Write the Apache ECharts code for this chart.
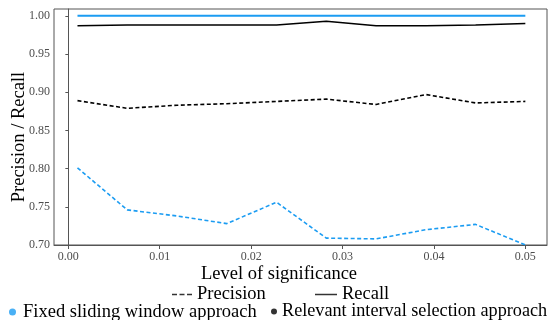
<!DOCTYPE html>
<html>
<head>
<meta charset="utf-8">
<script src="https://cdn.jsdelivr.net/npm/echarts@6/dist/echarts.min.js"></script>
<style>
html,body{margin:0;padding:0;background:#fff;}
#chart{width:548px;height:320px;}
</style>
</head>
<body>
<div id="chart"></div>
<script>
const levels = [0.001, 0.00644, 0.01189, 0.01733, 0.02278, 0.02822, 0.03367, 0.03911, 0.04456, 0.05];
const fixedPrecision = [0.801, 0.746, 0.738, 0.728, 0.756, 0.709, 0.708, 0.720, 0.727, 0.700];
const fixedRecall = [1.000, 1.000, 1.000, 1.000, 1.000, 1.000, 1.000, 1.000, 1.000, 1.000];
const relevantPrecision = [0.889, 0.879, 0.883, 0.885, 0.888, 0.891, 0.884, 0.897, 0.886, 0.888];
const relevantRecall = [0.987, 0.988, 0.988, 0.988, 0.988, 0.993, 0.987, 0.987, 0.988, 0.990];
const xTicks = [0.00, 0.01, 0.02, 0.03, 0.04, 0.05];
const xTitle = 'Level of significance';
const yTitle = 'Precision / Recall';
const legendLine = ['Precision', 'Recall'];
const legendMethod = ['Fixed sliding window approach', 'Relevant interval selection approach'];

const BLUE = '#1b9cf2';
const FONT = 'Liberation Serif';
const pairs = ys => levels.map((x, i) => [x, ys[i]]);

const chart = echarts.init(document.getElementById('chart'), null, {renderer: 'canvas'});
const legendText = {fontFamily: FONT, fontSize: 18.5, color: '#000'};
const legendBase = {itemGap: 0, textStyle: legendText, selectedMode: false, padding: 0, symbolKeepAspect: false};
chart.setOption({
  animation: false,
  backgroundColor: '#fff',
  grid: {left: 54, right: 1, top: 9, bottom: 75, show: true, borderColor: '#555', borderWidth: 1},
  xAxis: {
    type: 'value', min: -0.00157, max: 0.05237,
    axisLine: {show: true, onZero: false, lineStyle: {color: '#555', width: 1}},
    axisTick: {show: true, length: 4, customValues: xTicks, lineStyle: {color: '#555'}},
    axisLabel: {customValues: xTicks, formatter: v => v.toFixed(2), fontFamily: FONT, fontSize: 12, color: '#4d4d4d', margin: 6},
    splitLine: {show: false}
  },
  yAxis: {
    type: 'value', min: 0.70, max: 1.009, interval: 0.05,
    axisLine: {show: true, lineStyle: {color: '#555', width: 1}},
    axisTick: {show: true, length: 3, lineStyle: {color: '#555'}},
    axisLabel: {formatter: v => v.toFixed(2), fontFamily: FONT, fontSize: 12, color: '#4d4d4d', margin: 4,
      showMaxLabel: false},
    splitLine: {show: false}
  },
  legend: [
    Object.assign({data: [legendLine[0]], left: 172, top: 285, icon: 'path://M0,0h5v1h-5z M7.5,0h5v1h-5z M15,0h5v1h-5z',
      itemWidth: 20, itemHeight: 1.5, itemStyle: {color: '#000'}}, legendBase),
    Object.assign({data: [legendLine[1]], left: 315, top: 285, icon: 'rect',
      itemWidth: 22, itemHeight: 1.5, itemStyle: {color: '#000'}}, legendBase),
    Object.assign({data: [legendMethod[0]], left: 9, top: 302.5, icon: 'circle', itemWidth: 11, itemHeight: 7}, legendBase),
    Object.assign({}, legendBase, {data: [legendMethod[1]], left: 271, top: 302.5, icon: 'circle', itemWidth: 6, itemHeight: 6,
      textStyle: {fontFamily: FONT, fontSize: 18.2, color: '#000'}})
  ],
  graphic: [
    {type: 'text', x: 279, y: 274, style: {text: xTitle, font: '18.5px "Liberation Serif"', fill: '#000', align: 'center', verticalAlign: 'middle'}},
    {type: 'text', x: 19, y: 137, rotation: Math.PI / 2, style: {text: yTitle, font: '18.5px "Liberation Serif"', fill: '#000', align: 'center', verticalAlign: 'middle'}}
  ],
  series: [
    {name: 'fixedRecall', type: 'line', data: pairs(fixedRecall), symbol: 'none', lineStyle: {color: BLUE, width: 2}, z: 3},
    {name: 'fixedPrecision', type: 'line', data: pairs(fixedPrecision), symbol: 'none', lineStyle: {color: BLUE, width: 1.6, type: [4, 2.5]}},
    {name: 'relevantRecall', type: 'line', data: pairs(relevantRecall), symbol: 'none', lineStyle: {color: '#000', width: 1.6}},
    {name: 'relevantPrecision', type: 'line', data: pairs(relevantPrecision), symbol: 'none', lineStyle: {color: '#000', width: 1.6, type: [4, 2.5]}},
    {name: legendLine[0], type: 'scatter', data: [], itemStyle: {color: '#000'}},
    {name: legendLine[1], type: 'scatter', data: [], itemStyle: {color: '#000'}},
    {name: legendMethod[0], type: 'scatter', data: [], itemStyle: {color: BLUE}},
    {name: legendMethod[1], type: 'scatter', data: [], itemStyle: {color: '#000'}}
  ]
});
</script>
</body>
</html>
